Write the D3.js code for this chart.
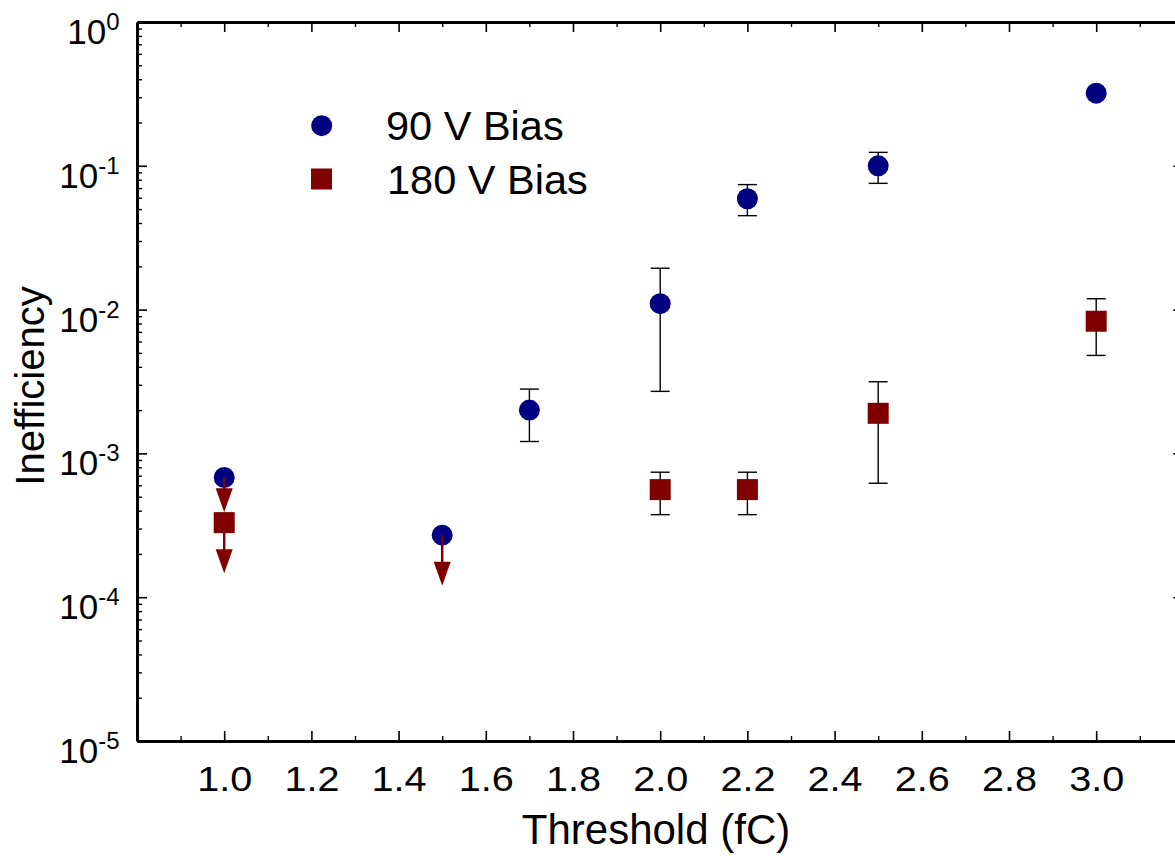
<!DOCTYPE html>
<html>
<head>
<meta charset="utf-8">
<script src="https://cdn.jsdelivr.net/npm/d3@7"></script>
<style>
  body { margin: 0; background: #fff; }
  svg { display: block; }
  text { font-family: "Liberation Sans", Arial, Helvetica, sans-serif; fill: #000; }
</style>
</head>
<body>
<svg id="chart" width="1175" height="856"></svg>
<script>
// ---- data ----
const thresholds90 = [1.0, 1.5, 1.7, 2.0, 2.2, 2.5, 3.0];
const ineff90      = [6.8e-4, 2.7e-4, 2.0e-3, 1.1e-2, 5.9e-2, 0.100, 0.32];
const errLow90     = [null, null, 1.21e-3, 2.7e-3, 4.5e-2, 7.55e-2, null];
const errHigh90    = [null, null, 2.8e-3, 1.94e-2, 7.4e-2, 0.124, null];
const limitTip90   = [3.9e-4, 1.2e-4, null, null, null, null, null];   // upper limits

const thresholds180 = [1.0, 2.0, 2.2, 2.5, 3.0];
const ineff180      = [3.3e-4, 5.6e-4, 5.6e-4, 1.9e-3, 8.3e-3];
const errLow180     = [null, 3.75e-4, 3.75e-4, 6.2e-4, 4.8e-3];
const errHigh180    = [null, 7.4e-4, 7.4e-4, 3.15e-3, 1.19e-2];
const limitTip180   = [1.47e-4, null, null, null, null];

const seriesNames = ["90 V Bias", "180 V Bias"];
const xMajorTicks = [1.0, 1.2, 1.4, 1.6, 1.8, 2.0, 2.2, 2.4, 2.6, 2.8, 3.0];
const xMinorTicks = [0.9, 1.1, 1.3, 1.5, 1.7, 1.9, 2.1, 2.3, 2.5, 2.7, 2.9, 3.1];
const yDecades = [1e-5, 1e-4, 1e-3, 1e-2, 1e-1, 1];
const yExponents = ["-5", "-4", "-3", "-2", "-1", "0"];

const BLUE = "#000080", RED = "#800000";

// ---- layout ----
const svg = d3.select("#chart");
const plotL = 137, plotR = 1183.4, plotT = 22, plotB = 741;

const x = d3.scaleLinear().domain([0.8, 3.2]).range([plotL, plotR]);
const y = d3.scaleLog().domain([1e-5, 1]).range([plotB, plotT]);

const yMinor = [];
yDecades.slice(0, -1).forEach(d => { for (let k = 2; k <= 9; k++) yMinor.push(d * k); });

function styleTicks(g, w) {
  g.selectAll(".tick line").attr("stroke", "#000").attr("stroke-width", w);
}

// bottom axis with labels
const gBottom = svg.append("g").attr("transform", `translate(0,${plotB})`)
  .call(d3.axisBottom(x).tickValues(xMajorTicks).tickSize(-10).tickSizeOuter(0)
    .tickPadding(25).tickFormat(d3.format(".1f")));
gBottom.select(".domain").attr("stroke", "#000").attr("stroke-width", 3);
styleTicks(gBottom, 1.6);
gBottom.selectAll("text").attr("font-size", 36).attr("font-family", null)
  .attr("dy", "0.7em").attr("transform", "scale(1.1,1)");

const gBottomMinor = svg.append("g").attr("transform", `translate(0,${plotB})`)
  .call(d3.axisBottom(x).tickValues(xMinorTicks).tickSize(-5).tickFormat(""));
gBottomMinor.select(".domain").remove();
styleTicks(gBottomMinor, 1.4);

// top axis (ticks only)
const gTop = svg.append("g").attr("transform", `translate(0,${plotT})`)
  .call(d3.axisTop(x).tickValues(xMajorTicks).tickSize(-10).tickSizeOuter(0).tickFormat(""));
gTop.select(".domain").attr("stroke", "#000").attr("stroke-width", 3);
styleTicks(gTop, 1.6);
const gTopMinor = svg.append("g").attr("transform", `translate(0,${plotT})`)
  .call(d3.axisTop(x).tickValues(xMinorTicks).tickSize(-5).tickFormat(""));
gTopMinor.select(".domain").remove();
styleTicks(gTopMinor, 1.4);

// left axis
const gLeft = svg.append("g").attr("transform", `translate(${plotL},0)`)
  .call(d3.axisLeft(y).tickValues(yDecades).tickSize(-10).tickSizeOuter(0).tickFormat(""));
gLeft.select(".domain").attr("stroke", "#000").attr("stroke-width", 3);
styleTicks(gLeft, 1.6);
const gLeftMinor = svg.append("g").attr("transform", `translate(${plotL},0)`)
  .call(d3.axisLeft(y).tickValues(yMinor).tickSize(-5).tickFormat(""));
gLeftMinor.select(".domain").remove();
styleTicks(gLeftMinor, 1.4);

// right axis
const gRight = svg.append("g").attr("transform", `translate(${plotR},0)`)
  .call(d3.axisRight(y).tickValues(yDecades).tickSize(-10).tickSizeOuter(0).tickFormat(""));
gRight.select(".domain").attr("stroke", "#000").attr("stroke-width", 3);
styleTicks(gRight, 1.6);
const gRightMinor = svg.append("g").attr("transform", `translate(${plotR},0)`)
  .call(d3.axisRight(y).tickValues(yMinor).tickSize(-5).tickFormat(""));
gRightMinor.select(".domain").remove();
styleTicks(gRightMinor, 1.4);

// power-of-ten labels
const yLabels = svg.append("g");
yDecades.forEach((d, i) => {
  const t = yLabels.append("text")
    .attr("x", 119.5).attr("y", y(d) + 22)
    .attr("text-anchor", "end").attr("font-size", 35).text("10");
  t.append("tspan").attr("dy", -14).attr("font-size", 24).text(yExponents[i]);
});

// axis titles
svg.append("text")
  .attr("transform", "translate(656,844)")
  .attr("text-anchor", "middle").attr("font-size", 42).text("Threshold (fC)");
svg.append("text")
  .attr("transform", "translate(44,386) rotate(-90)")
  .attr("text-anchor", "middle").attr("font-size", 40).text("Inefficiency");

// ---- data marks ----
const pts90 = thresholds90.map((t, i) => ({ t, v: ineff90[i], lo: errLow90[i], hi: errHigh90[i], tip: limitTip90[i] }));
const pts180 = thresholds180.map((t, i) => ({ t, v: ineff180[i], lo: errLow180[i], hi: errHigh180[i], tip: limitTip180[i] }));

const capHalf = 9.5;
function errorBars(pts) {
  const g = svg.append("g").attr("stroke", "#000").attr("stroke-width", 1.4).attr("fill", "none");
  pts.filter(p => p.lo != null).forEach(p => {
    const cx = x(p.t);
    g.append("line").attr("x1", cx).attr("x2", cx).attr("y1", y(p.hi)).attr("y2", y(p.lo));
    g.append("line").attr("x1", cx - capHalf).attr("x2", cx + capHalf).attr("y1", y(p.hi)).attr("y2", y(p.hi));
    g.append("line").attr("x1", cx - capHalf).attr("x2", cx + capHalf).attr("y1", y(p.lo)).attr("y2", y(p.lo));
  });
}
errorBars(pts90);
errorBars(pts180);

const R = 10.5;
svg.append("g").selectAll("circle").data(pts90).join("circle")
  .attr("cx", d => x(d.t)).attr("cy", d => y(d.v)).attr("r", R).attr("fill", BLUE);

// upper-limit arrows
const headLen = 24, headHalf = 8.5;
const arrows = svg.append("g");
[...pts90, ...pts180].filter(p => p.tip != null).forEach(p => {
  const cx = x(p.t), y0 = y(p.v), yt = y(p.tip);
  arrows.append("line").attr("x1", cx).attr("x2", cx).attr("y1", y0).attr("y2", yt - headLen + 2)
    .attr("stroke", RED).attr("stroke-width", 2.4);
  arrows.append("path")
    .attr("d", `M${cx - headHalf},${yt - headLen}L${cx + headHalf},${yt - headLen}L${cx},${yt}Z`)
    .attr("fill", RED);
});

svg.append("g").selectAll("rect").data(pts180).join("rect")
  .attr("x", d => x(d.t) - R).attr("y", d => y(d.v) - R)
  .attr("width", 2 * R).attr("height", 2 * R).attr("fill", RED);

// ---- legend ----
const legend = svg.append("g");
legend.append("circle").attr("cx", 321.7).attr("cy", 125.7).attr("r", R).attr("fill", BLUE);
legend.append("rect").attr("x", 311).attr("y", 168.5).attr("width", 21).attr("height", 21).attr("fill", RED);
legend.append("text").attr("transform", "translate(386,140)")
  .attr("font-size", 41.5).text(seriesNames[0]);
legend.append("text").attr("transform", "translate(387,194)")
  .attr("font-size", 41.5).text(seriesNames[1]);
</script>
</body>
</html>
